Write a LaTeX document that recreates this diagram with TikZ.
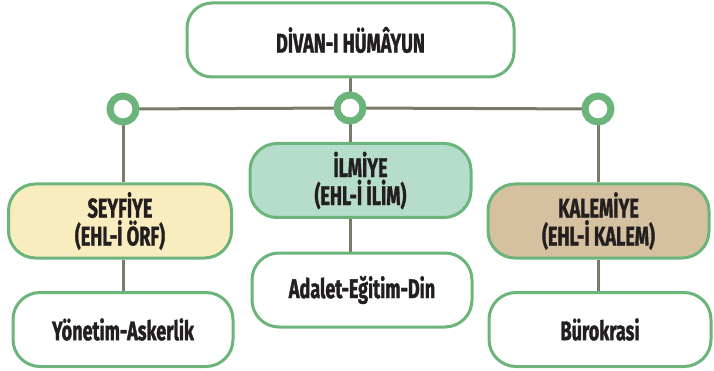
\documentclass[tikz,border=0pt]{standalone}
\usepackage{fontspec}
\newfontfamily\dinfont[FakeStretch=0.67, FakeBold=1.2]{Fira Sans}
\usetikzlibrary{backgrounds}
\definecolor{boxgreen}{RGB}{107,181,123}
\definecolor{linegray}{RGB}{125,121,104}
\definecolor{textblack}{RGB}{35,31,32}
\definecolor{seyfiyefill}{RGB}{249,237,192}
\definecolor{ilmiyefill}{RGB}{182,220,203}
\definecolor{kalemfill}{RGB}{213,193,159}

\begin{document}
\begin{tikzpicture}[x=1pt, y=-1pt,
  box/.style={draw=boxgreen, line width=3pt, rounded corners=27pt, fill=white,
              minimum width=220pt, minimum height=74pt, inner sep=0pt, align=center,
              text=textblack, font=\dinfont\bfseries\fontsize{27}{28}\selectfont},
  link/.style={draw=linegray, line width=3pt},
  dot/.style={circle, draw=boxgreen, line width=7pt, fill=white,
              minimum size=26pt, inner sep=0pt}]
  \useasboundingbox (0,0) rectangle (714,371);
  \node[box, minimum width=327pt, rounded corners=25pt] (divan) at (350.5,40) {D\.IVAN-I HÜMÂYUN};
  \node[box, fill=seyfiyefill, minimum width=223pt] (seyfiye) at (120,221) {SEYF\.IYE\\(EHL-\.I ÖRF)};
  \node[box, fill=ilmiyefill, minimum width=221pt] (ilmiye) at (360.5,180.5) {\.ILM\.IYE\\(EHL-\.I \.IL\.IM)};
  \node[box, fill=kalemfill, minimum width=221pt] (kalemiye) at (598.5,221) {KALEM\.IYE\\(EHL-\.I KALEM)};
  \node[box] (yonetim) at (123,329.5) {Yönetim-Askerlik};
  \node[box] (adalet) at (362,290) {Adalet-Eğitim-Din};
  \node[box, minimum width=222pt] (burokrasi) at (600,329.5) {Bürokrasi};
  \coordinate (j1) at (123,109);
  \coordinate (j2) at (350,108);
  \coordinate (j3) at (598,109);
  \begin{scope}[on background layer]
    \draw[link] (j1) -- (j2) -- (j3);
    \draw[link] (j2 |- divan.south) -- (j2) -- (j2 |- ilmiye.north);
    \draw[link] (j2 |- ilmiye.south) -- (j2 |- adalet.north);
    \draw[link] (j1) -- (j1 |- seyfiye.north);
    \draw[link] (j1 |- seyfiye.south) -- (j1 |- yonetim.north);
    \draw[link] (j3) -- (j3 |- kalemiye.north);
    \draw[link] (j3 |- kalemiye.south) -- (j3 |- burokrasi.north);
  \end{scope}
  \node[dot] (d1) at (j1) {};
  \node[dot] (d2) at (j2) {};
  \node[dot] (d3) at (j3) {};
\end{tikzpicture}
\end{document}
